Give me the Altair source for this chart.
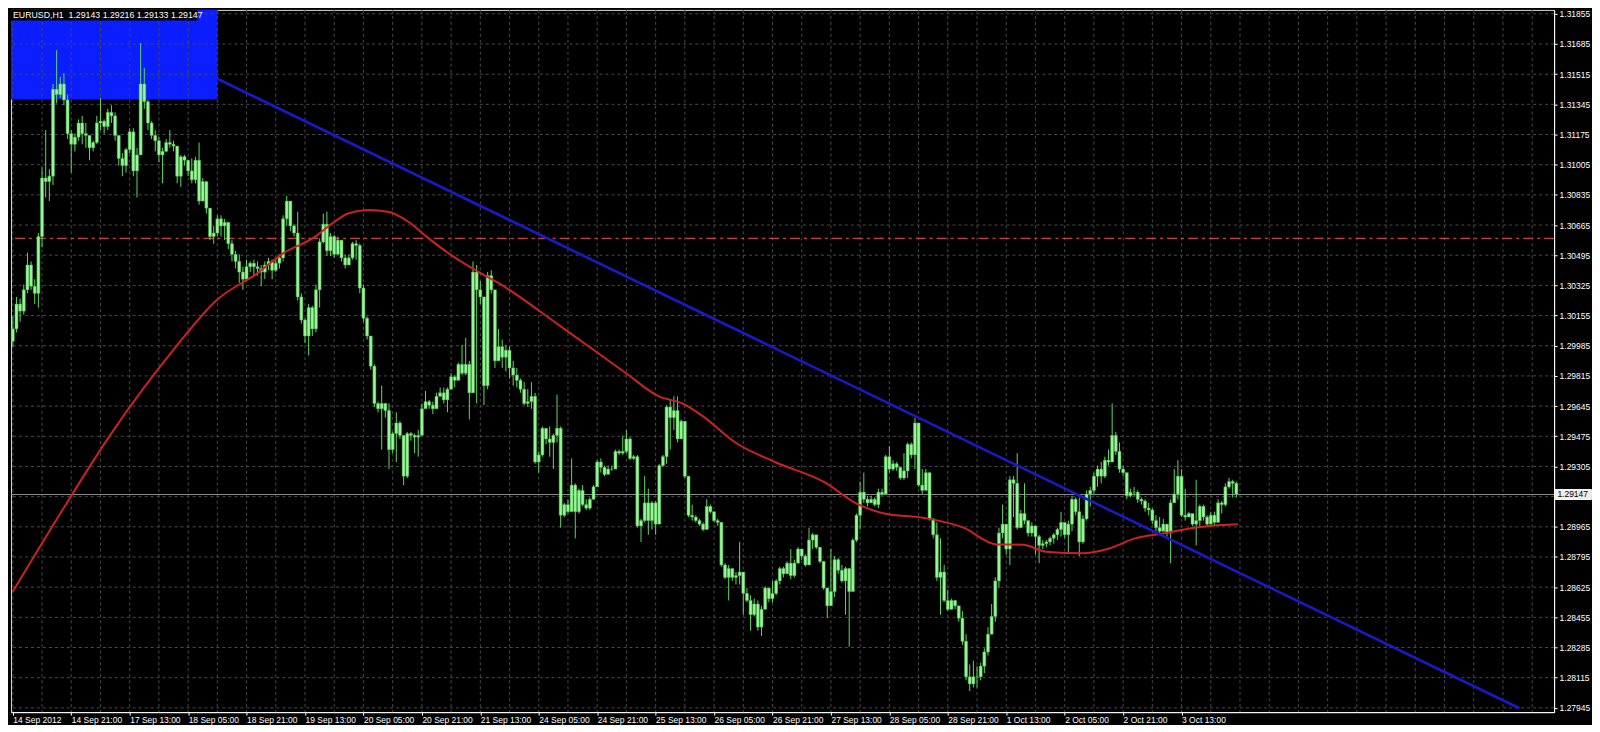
import altair as alt
import pandas as pd

# ---------------- data (prices in pips, 1.xxxx * 10000) ----------------
SYMBOL_TEXT = "EURUSD,H1\u00a0\u00a01.29143 1.29216 1.29133 1.29147"
FIRST_OPEN = 13001

CLOSES = [
    13008,13022,13018,13030,13044,13032,13028,13060,13093,13091,13094,13143,
    13140,13146,13137,13118,13112,13116,13124,13118,13117,13110,13113,13124,
    13125,13122,13130,13128,13117,13104,13100,13109,13119,13097,13106,13146,
    13136,13124,13117,13114,13106,13108,13113,13112,13111,13094,13105,13103,
    13097,13092,13103,13080,13091,13076,13060,13062,13070,13066,13068,13056,
    13050,13046,13040,13036,13043,13045,13043,13042,13040,13044,13046,13041,
    13045,13048,13070,13080,13066,13062,13026,13013,13004,13020,13008,13030,
    13057,13067,13052,13060,13050,13058,13048,13044,13048,13056,13055,13031,
    13014,13004,12987,12966,12963,12966,12962,12940,12949,12955,12948,12925,
    12949,12948,12947,12948,12963,12967,12965,12963,12970,12972,12968,12974,
    12981,12979,12988,12983,12988,12972,13040,13030,13026,12976,13038,13030,
    12990,12998,12992,12996,12986,12982,12979,12974,12966,12967,12970,12933,
    12937,12952,12946,12944,12948,12952,12903,12909,12905,12920,12905,12917,
    12909,12907,12912,12919,12933,12930,12926,12929,12929,12939,12938,12939,
    12946,12935,12936,12897,12900,12910,12900,12910,12898,12931,12936,12964,
    12958,12962,12946,12956,12925,12903,12902,12900,12898,12895,12908,12905,
    12900,12899,12875,12868,12873,12868,12869,12871,12859,12855,12847,12853,
    12840,12850,12862,12856,12859,12866,12873,12870,12876,12869,12876,12884,
    12880,12875,12889,12892,12885,12877,12862,12852,12860,12878,12872,12866,
    12873,12860,12889,12903,12916,12912,12910,12912,12909,12916,12915,12936,
    12929,12932,12930,12924,12928,12943,12937,12955,12920,12917,12927,12901,
    12892,12868,12871,12855,12850,12855,12852,12845,12832,12812,12808,12812,
    12812,12818,12826,12836,12846,12866,12893,12898,12884,12923,12921,12896,
    12904,12900,12893,12897,12891,12886,12887,12888,12890,12892,12895,12899,
    12892,12898,12912,12905,12888,12901,12915,12917,12925,12929,12925,12934,
    12933,12948,12939,12929,12927,12914,12916,12916,12912,12911,12907,12906,
    12900,12896,12894,12898,12893,12910,12915,12925,12903,12902,12904,12898,
    12900,12908,12902,12898,12903,12899,12910,12909,12919,12922,12921,12915,
]
HIGHS = [
    13015,13026,13025,13033,13051,13046,13036,13062,13099,13120,13098,13146,
    13165,13150,13152,13140,13120,13118,13126,13128,13124,13114,13114,13128,
    13138,13126,13132,13134,13130,13116,13107,13110,13121,13121,13110,13169,
    13155,13137,13125,13120,13116,13110,13115,13120,13114,13107,13106,13106,
    13101,13104,13105,13113,13093,13082,13076,13066,13072,13072,13070,13068,
    13058,13052,13050,13043,13047,13046,13047,13046,13044,13046,13048,13047,
    13047,13050,13072,13083,13080,13067,13074,13028,13014,13022,13021,13033,
    13059,13073,13074,13062,13061,13060,13057,13050,13050,13057,13058,13056,
    13033,13015,13003,12988,12967,12976,12966,12966,12950,12961,12956,12947,
    12950,12950,12949,12951,12966,12973,12968,12967,12972,12975,12975,12975,
    12983,12982,12989,12999,13003,12990,13046,13044,13035,13026,13040,13041,
    13021,13008,13002,12999,12998,12990,12986,12980,12978,12974,12978,12972,
    12939,12953,12950,12953,12949,12971,12953,12910,12912,12935,12921,12918,
    12920,12912,12913,12920,12934,12935,12931,12931,12931,12940,12940,12948,
    12951,12947,12937,12937,12901,12925,12918,12911,12911,12932,12937,12965,
    12968,12970,12970,12957,12948,12925,12909,12903,12901,12899,12912,12909,
    12905,12901,12899,12876,12875,12872,12871,12888,12866,12862,12858,12856,
    12855,12852,12863,12861,12866,12867,12874,12874,12877,12884,12878,12885,
    12883,12881,12896,12893,12890,12885,12877,12862,12884,12880,12879,12875,
    12874,12873,12890,12904,12922,12927,12914,12914,12913,12918,12918,12937,
    12942,12934,12933,12929,12938,12944,12944,12958,12938,12929,12929,12927,
    12901,12899,12890,12875,12861,12856,12855,12849,12849,12836,12819,12821,
    12818,12820,12828,12840,12853,12868,12896,12909,12898,12925,12925,12938,
    12906,12921,12899,12899,12896,12892,12889,12889,12891,12893,12896,12905,
    12896,12900,12914,12913,12913,12903,12917,12919,12927,12931,12933,12936,
    12940,12966,12950,12944,12931,12927,12918,12919,12917,12913,12912,12910,
    12907,12903,12902,12901,12898,12912,12929,12934,12929,12918,12905,12901,
    12923,12909,12909,12903,12905,12905,12912,12911,12921,12924,12923,12922,
]
LOWS = [
    12998,13006,13012,13016,13028,13030,13022,13020,13054,13082,13080,13089,
    13135,13138,13134,13115,13096,13108,13114,13112,13110,13103,13108,13112,
    13120,13118,13120,13124,13114,13100,13094,13096,13107,13094,13082,13112,
    13132,13120,13115,13108,13102,13090,13108,13110,13108,13090,13088,13100,
    13094,13090,13090,13078,13080,13073,13058,13056,13060,13060,13058,13053,
    13046,13042,13034,13030,13036,13040,13038,13038,13032,13036,13041,13036,
    13040,13042,13046,13066,13063,13060,13024,13011,13000,12993,13004,13006,
    13020,13056,13049,13049,13048,13050,13046,13042,13044,13047,13047,13028,
    13012,13002,12985,12964,12961,12940,12958,12929,12938,12933,12946,12920,
    12924,12945,12938,12936,12952,12964,12963,12960,12963,12970,12966,12961,
    12975,12975,12980,12982,12982,12957,12972,12966,13022,12965,12974,13028,
    12986,12990,12986,12984,12980,12976,12975,12972,12965,12964,12963,12932,
    12927,12936,12943,12936,12929,12944,12896,12902,12904,12906,12890,12904,
    12908,12906,12906,12912,12921,12927,12925,12927,12928,12930,12937,12937,
    12938,12934,12934,12896,12888,12899,12892,12895,12892,12906,12930,12932,
    12940,12951,12944,12948,12924,12902,12900,12899,12897,12894,12897,12904,
    12899,12897,12874,12867,12855,12866,12864,12864,12847,12854,12838,12846,
    12838,12835,12852,12854,12854,12858,12864,12868,12872,12867,12868,12876,
    12878,12874,12879,12884,12884,12876,12861,12845,12853,12857,12870,12865,
    12847,12829,12872,12888,12895,12910,12908,12910,12908,12907,12914,12916,
    12927,12928,12928,12923,12923,12924,12935,12929,12919,12915,12923,12900,
    12890,12866,12847,12854,12849,12850,12850,12843,12830,12810,12804,12806,
    12806,12810,12814,12824,12836,12843,12862,12890,12881,12875,12902,12895,
    12897,12898,12891,12891,12881,12876,12884,12885,12886,12887,12889,12891,
    12890,12882,12894,12903,12880,12887,12900,12908,12915,12919,12921,12924,
    12931,12933,12937,12927,12925,12912,12913,12914,12910,12909,12905,12903,
    12898,12894,12892,12895,12891,12876,12910,12912,12902,12900,12902,12897,
    12886,12897,12900,12897,12899,12897,12903,12904,12908,12918,12913,12913,
]

# moving average (red), read at points along the curve: bar index, pips
MA_BARS = [0, 13, 26.6, 44.3, 55.7, 67.4, 73.6, 82.8, 87.2, 91.8, 97.3, 102.7, 108.2,
           113.6, 119, 126.3, 132.6, 150.3, 167.9, 176.9, 183.3, 188.8, 197.8, 208.7,
           222.3, 231.2, 238.6, 249.5, 260.3, 269.3, 276.6, 282.9, 292.9, 300.2, 307.3,
           314.7, 323.6, 331, 335.5]
MA_PIPS = [12860, 12904, 12948, 12997, 13024, 13040, 13050, 13060, 13067, 13073, 13075,
           13074, 13068.5, 13059.4, 13051, 13041.5, 13034.3, 13009, 12983, 12970, 12966,
           12959, 12944, 12933, 12921.5, 12909.4, 12904, 12901.5, 12896, 12886.6, 12886.4,
           12882.5, 12881.6, 12884.3, 12890, 12892.7, 12896, 12897.5, 12898]

DATE_LABELS = ["14 Sep 2012", "14 Sep 21:00", "17 Sep 13:00", "18 Sep 05:00", "18 Sep 21:00",
               "19 Sep 13:00", "20 Sep 05:00", "20 Sep 21:00", "21 Sep 13:00", "24 Sep 05:00",
               "24 Sep 21:00", "25 Sep 13:00", "26 Sep 05:00", "26 Sep 21:00", "27 Sep 13:00",
               "28 Sep 05:00", "28 Sep 21:00", "1 Oct 13:00", "2 Oct 05:00", "2 Oct 21:00",
               "3 Oct 13:00"]
BARS_PER_LABEL = 16
BARS_PER_GRID = 8

PRICE_TICKS = [1.31855, 1.31685, 1.31515, 1.31345, 1.31175, 1.31005, 1.30835, 1.30665,
               1.30495, 1.30325, 1.30155, 1.29985, 1.29815, 1.29645, 1.29475, 1.29305,
               1.29135, 1.28965, 1.28795, 1.28625, 1.28455, 1.28285, 1.28115, 1.27945]
HIDDEN_TICK = 1.29135

TREND_BARS = [56, 412.5]
TREND_PRICES = [1.31489, 1.27943]
ZONE = {"x0": -0.5, "x1": 56, "y0": 1.31372, "y1": 1.31877}
LEVEL_PRICE = 1.3059
BID_PRICE = 1.29147
BID_TEXT = "1.29147"

X_DOMAIN = [-0.5, 422]
Y_DOMAIN = [1.27921, 1.31877]

# ---------------- styling ----------------
FONT = "Liberation Sans"
GREEN_WICK = "#5fd85f"
GREEN_FILL = "#9af59a"
GREEN_EDGE = "#44b844"
GRID = "#4a4a4a"

P = 10000.0
opens = [FIRST_OPEN] + CLOSES[:-1]
candles = pd.DataFrame({
    "bar": list(range(len(CLOSES))),
    "open": [v / P for v in opens],
    "close": [v / P for v in CLOSES],
    "high": [v / P for v in HIGHS],
    "low": [v / P for v in LOWS],
})
ma = pd.DataFrame({"bar": MA_BARS, "price": [v / P for v in MA_PIPS]})
trend = pd.DataFrame({"bar": TREND_BARS, "price": TREND_PRICES})

xs = alt.Scale(domain=X_DOMAIN, nice=False, zero=False, padding=0)
ys = alt.Scale(domain=Y_DOMAIN, nice=False, zero=False, padding=0)

label_bars = [i * BARS_PER_LABEL for i in range(len(DATE_LABELS))]
label_expr = "[" + ",".join("'%s'" % s for s in DATE_LABELS) + "][round(datum.value / %d)]" % BARS_PER_LABEL

XA = alt.Axis(values=label_bars, labelExpr=label_expr, grid=False, title=None,
              labelAlign="left", labelPadding=0, labelFlush=False, labelOverlap=False,
              tickSize=3, tickColor="#ffffff", domainColor="#ffffff",
              labelColor="#ffffff", labelFont=FONT, labelFontSize=8.5)
YA = alt.Axis(orient="right", values=[p for p in PRICE_TICKS if p != HIDDEN_TICK],
              format=".5f", grid=False, title=None, labelFlush=False, labelOverlap=False,
              tickSize=3, labelPadding=2, tickColor="#ffffff", domainColor="#ffffff",
              labelColor="#ffffff", labelFont=FONT, labelFontSize=8.5)


def X(field):
    return alt.X(field, scale=xs, axis=XA)


def Y(field):
    return alt.Y(field, scale=ys, axis=YA)


zone = alt.Chart(pd.DataFrame([ZONE])).mark_rect(color="#0a1eff").encode(
    x=X("x0:Q"), x2="x1:Q", y=Y("y0:Q"), y2="y1:Q")

vgrid = alt.Chart(pd.DataFrame({"g": list(range(0, int(X_DOMAIN[1]) + 1, BARS_PER_GRID))})).mark_rule(
    color=GRID, strokeDash=[3, 3], strokeWidth=1).encode(x=X("g:Q"))
hgrid = alt.Chart(pd.DataFrame({"p": PRICE_TICKS})).mark_rule(
    color=GRID, strokeDash=[3, 3], strokeWidth=1).encode(y=Y("p:Q"))

level = alt.Chart(pd.DataFrame({"p": [LEVEL_PRICE]})).mark_rule(
    color="#e04646", strokeDash=[10, 4, 3, 4], strokeWidth=1.4, opacity=0.9).encode(y=Y("p:Q"))
bid = alt.Chart(pd.DataFrame({"p": [BID_PRICE]})).mark_rule(
    color="#8a8a8a", strokeWidth=1).encode(y=Y("p:Q"))

wicks = alt.Chart(candles).mark_rule(color=GREEN_WICK, strokeWidth=1).encode(
    x=X("bar:Q"), y=Y("low:Q"), y2="high:Q")
bodies = alt.Chart(candles).mark_bar(size=3, fill=GREEN_FILL, stroke=GREEN_EDGE,
                                     strokeWidth=0.5, orient="vertical").encode(
    x=X("bar:Q"), y=Y("open:Q"), y2="close:Q")

ma_line = alt.Chart(ma).mark_line(color="#cc2222", strokeWidth=2, interpolate="monotone").encode(
    x=X("bar:Q"), y=Y("price:Q"))
trend_line = alt.Chart(trend).mark_line(color="#1a1ac8", strokeWidth=2.6).encode(
    x=X("bar:Q"), y=Y("price:Q"))

title_box = alt.Chart(pd.DataFrame({"x0": [-0.5], "x1": [50.5], "y0": [1.31817], "y1": [1.31877]})).mark_rect(
    color="#000000").encode(x=X("x0:Q"), x2="x1:Q", y=Y("y0:Q"), y2="y1:Q")
title_text = alt.Chart(pd.DataFrame({"x": [-0.5], "y": [1.31847], "t": [SYMBOL_TEXT]})).mark_text(
    align="left", baseline="middle", dx=2, color="#ffffff", font=FONT, fontSize=8.8).encode(
    x=X("x:Q"), y=Y("y:Q"), text="t:N")

bid_box = alt.Chart(pd.DataFrame({"x0": [422.3], "x1": [432.2], "y0": [BID_PRICE - 0.00028],
                                  "y1": [BID_PRICE + 0.00028]})).mark_rect(
    fill="#eeeeee", stroke="#ffffff").encode(x=X("x0:Q"), x2="x1:Q", y=Y("y0:Q"), y2="y1:Q")
bid_text = alt.Chart(pd.DataFrame({"x": [422.9], "y": [BID_PRICE], "t": [BID_TEXT]})).mark_text(
    align="left", baseline="middle", color="#000000", font=FONT, fontSize=8.5).encode(
    x=X("x:Q"), y=Y("y:Q"), text="t:N")

chart = alt.layer(
    zone, vgrid, hgrid, level, bid, wicks, bodies, ma_line, trend_line,
    title_box, title_text, bid_box, bid_text
).properties(
    width=1547, height=704, padding=0
).configure(
    background="#000000"
).configure_view(
    stroke="#d8d8d8", strokeWidth=1
)

chart.save("out.html", embed_options={"renderer": "svg", "actions": False})
